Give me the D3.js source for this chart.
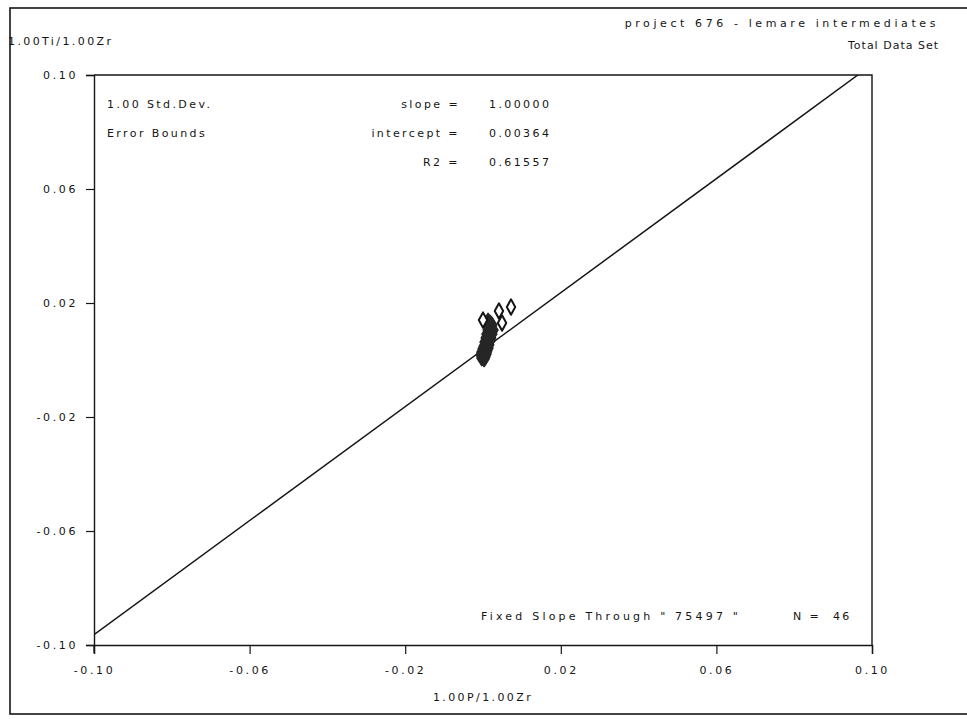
<!DOCTYPE html>
<html>
<head>
<meta charset="utf-8">
<script src="https://cdn.jsdelivr.net/npm/d3@7"></script>
<style>
  body { margin: 0; background: #fff; }
  text { font-family: "DejaVu Sans", sans-serif; font-size: 11px; fill: #151515; letter-spacing: 2.4px; }
</style>
</head>
<body>
<svg id="chart" width="967" height="719"></svg>
<script>
// axis ticks
var xTicks = [-0.10, -0.06, -0.02, 0.02, 0.06, 0.10];
var yTicks = [-0.10, -0.06, -0.02, 0.02, 0.06, 0.10];

// fit
var slope = 1.00000;
var intercept = 0.00364;
var r2 = 0.61557;
var nPoints = 46;

// open diamonds (outliers)
var openX = [0.0000, 0.0041, 0.0072, 0.0049];
var openY = [0.0140, 0.0172, 0.0186, 0.0130];

// filled diamonds (main cluster)
var filledX = [0.0013, 0.0018, 0.0023, 0.0015, 0.0020, 0.0026, 0.0013, 0.0018, 0.0023, 0.0010,
               0.0015, 0.0020, 0.0008, 0.0013, 0.0018, 0.0005, 0.0010, 0.0015, 0.0003, 0.0008,
               0.0013, 0.0000, 0.0005, 0.0010, -0.0003, 0.0003, 0.0008, -0.0005, 0.0000, 0.0005,
               -0.0003, 0.0003, 0.0018, 0.0020, 0.0015, 0.0013, 0.0010, 0.0008, 0.0005, 0.0020,
               0.0018, 0.0010];
var filledY = [0.0137, 0.0130, 0.0123, 0.0119, 0.0112, 0.0105, 0.0105, 0.0098, 0.0091, 0.0091,
               0.0084, 0.0077, 0.0077, 0.0070, 0.0067, 0.0063, 0.0056, 0.0053, 0.0049, 0.0046,
               0.0042, 0.0039, 0.0035, 0.0032, 0.0028, 0.0025, 0.0021, 0.0018, 0.0014, 0.0011,
               0.0007, 0.0004, 0.0116, 0.0095, 0.0074, 0.0060, 0.0042, 0.0028, 0.0018, 0.0126,
               0.0084, 0.0081];

var svg = d3.select("#chart");
var ink = "#151515";

// outer frame
svg.append("rect")
  .attr("x", 10).attr("y", 8).attr("width", 960).attr("height", 706)
  .attr("fill", "none").attr("stroke", ink).attr("stroke-width", 1.6);

var pLeft = 94, pRight = 872, pTop = 75, pBottom = 645;

var x = d3.scaleLinear().domain([-0.1, 0.1]).range([pLeft, pRight]);
var y = d3.scaleLinear().domain([-0.1, 0.1]).range([pBottom, pTop]);

// plot box top/right
svg.append("path")
  .attr("d", "M" + pLeft + "," + pTop + "H" + pRight + "V" + pBottom)
  .attr("fill", "none").attr("stroke", ink).attr("stroke-width", 1.4);

var fmt = function(d) { return d3.format(".2f")(d).replace("\u2212", "-"); };

var xAxis = svg.append("g")
  .attr("transform", "translate(0," + pBottom + ")")
  .call(d3.axisBottom(x).tickValues(xTicks).tickSize(9).tickPadding(12).tickFormat(fmt));
var yAxis = svg.append("g")
  .attr("transform", "translate(" + pLeft + ",0)")
  .call(d3.axisLeft(y).tickValues(yTicks).tickSize(8).tickPadding(8).tickFormat(fmt));

[xAxis, yAxis].forEach(function(g) {
  g.select(".domain").attr("stroke", ink).attr("stroke-width", 1.4);
  g.selectAll(".tick line").attr("stroke", ink).attr("stroke-width", 1.2);
  g.selectAll(".tick text").attr("fill", ink).style("font-size", "11px")
    .style("font-family", "DejaVu Sans, sans-serif").style("letter-spacing", "2.6px");
});
// the left axis runs a little past the bottom
svg.append("line")
  .attr("x1", pLeft).attr("x2", pLeft).attr("y1", pBottom).attr("y2", pBottom + 8)
  .attr("stroke", ink).attr("stroke-width", 1.2);

// fitted line, clipped to the box
svg.append("clipPath").attr("id", "clip")
  .append("rect").attr("x", pLeft).attr("y", pTop).attr("width", pRight - pLeft).attr("height", pBottom - pTop);

var xs = [-0.1, (0.1 - intercept) / slope];
svg.append("line")
  .attr("clip-path", "url(#clip)")
  .attr("x1", x(xs[0])).attr("y1", y(slope * xs[0] + intercept))
  .attr("x2", x(xs[1])).attr("y2", y(slope * xs[1] + intercept))
  .attr("stroke", ink).attr("stroke-width", 1.5);

var diamond = d3.symbol().type(d3.symbolDiamond).size(56);

svg.append("g").selectAll("path")
  .data(d3.range(filledX.length))
  .join("path")
  .attr("d", diamond)
  .attr("transform", function(i) { return "translate(" + x(filledX[i]) + "," + y(filledY[i]) + ") scale(1.2,1.1)"; })
  .attr("fill", "#262626").attr("stroke", "#262626").attr("stroke-width", 1.4).attr("stroke-linejoin", "round");

svg.append("g").selectAll("path")
  .data(d3.range(openX.length))
  .join("path")
  .attr("d", diamond)
  .attr("transform", function(i) { return "translate(" + x(openX[i]) + "," + y(openY[i]) + ") scale(1.05,1.1)"; })
  .attr("fill", "#fff").attr("stroke", ink).attr("stroke-width", 1.9).attr("stroke-linejoin", "round");

// header texts
svg.append("text").attr("x", 8).attr("y", 45).text("1.00Ti/1.00Zr");
svg.append("text").attr("x", 939).attr("y", 27).attr("text-anchor", "end")
  .style("letter-spacing", "3.6px").text("project 676 - lemare intermediates");
svg.append("text").attr("x", 939).attr("y", 49).attr("text-anchor", "end")
  .style("letter-spacing", "1.0px").text("Total Data Set");

// stats block
svg.append("text").attr("x", 107).attr("y", 108).text("1.00 Std.Dev.");
svg.append("text").attr("x", 107).attr("y", 137).text("Error Bounds");
var statLabels = ["slope =", "intercept =", "R2 ="];
var statValues = [slope.toFixed(5), intercept.toFixed(5), r2.toFixed(5)];
statLabels.forEach(function(s, i) {
  svg.append("text").attr("x", 460).attr("y", 108 + i * 29).attr("text-anchor", "end").text(s);
  svg.append("text").attr("x", 489).attr("y", 108 + i * 29).text(statValues[i]);
});

svg.append("text").attr("x", 481).attr("y", 620).style("letter-spacing", "3.2px")
  .text("Fixed Slope Through \" 75497 \"");
svg.append("text").attr("x", 793).attr("y", 620).attr("xml:space", "preserve").text("N =  " + nPoints);

// axis title
svg.append("text").attr("x", 483).attr("y", 701).attr("text-anchor", "middle").text("1.00P/1.00Zr");
</script>
</body>
</html>
